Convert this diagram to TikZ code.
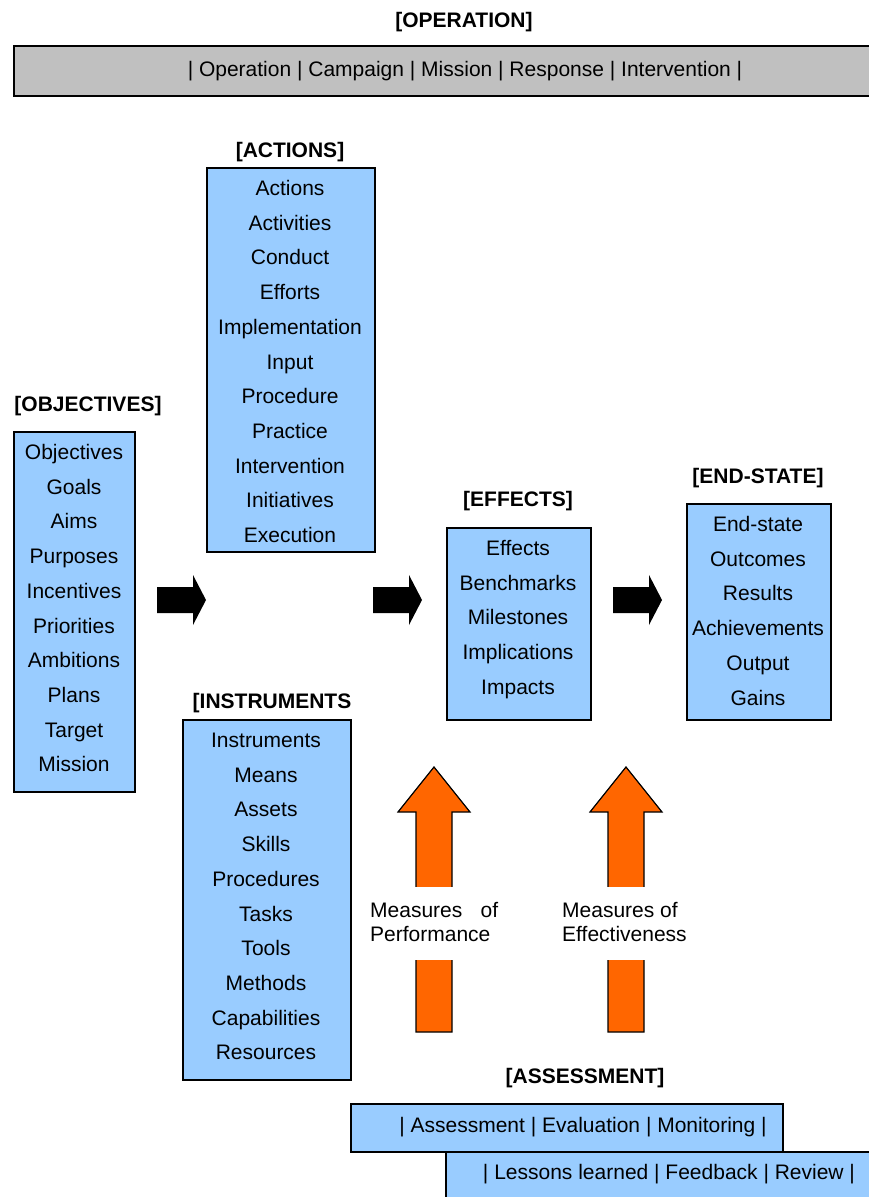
\documentclass[tikz,border=0pt]{standalone}
\usepackage{fontspec}
\setmainfont{Liberation Sans}
\definecolor{boxblue}{HTML}{99CCFF}
\definecolor{opgray}{HTML}{C0C0C0}
\definecolor{msorange}{HTML}{FF6600}
\tikzset{
  box/.style={draw=black, line width=1.5pt, fill=boxblue, inner sep=0pt, anchor=north west},
  item/.style={font=\fontsize{21}{25}\selectfont, inner sep=0pt, text height=15pt, text depth=0pt, anchor=center},
  lbl/.style={item, font=\bfseries\fontsize{21}{25}\selectfont},
  bigarrow/.style={fill=black},
  measarrow/.style={fill=msorange, draw=black, line width=1.2pt, line join=miter},
  meastext/.style={anchor=west, align=left, inner sep=0pt, font=\fontsize{21}{24}\selectfont}
}
\begin{document}
\begin{tikzpicture}[x=1pt,y=-1pt]
\useasboundingbox (0,0) rectangle (868,1197);
% operation
\node[lbl] (oplbl) at (464,20) {[OPERATION]};
\node[box, fill=opgray, minimum width=870pt, minimum height=50pt] (op) at (13,45) {};
\node[item] (optxt) at (465,69) {| Operation | Campaign | Mission | Response | Intervention |};
% boxes
\node[box, minimum width=168pt, minimum height=384pt] (act) at (206,167) {};
\node[box, minimum width=121pt, minimum height=360pt] (obj) at (13,431) {};
\node[box, minimum width=168pt, minimum height=360pt] (ins) at (182,719) {};
\node[box, minimum width=144pt, minimum height=192pt] (eff) at (446,527) {};
\node[box, minimum width=144pt, minimum height=216pt] (end) at (686,503) {};
% labels
\node[lbl] (actlbl) at (290,150) {[ACTIONS]};
\node[lbl] (objlbl) at (88,404) {[OBJECTIVES]};
\node[lbl] (inslbl) at (272,701) {[INSTRUMENTS};
\node[lbl] (efflbl) at (518,499) {[EFFECTS]};
\node[lbl] (endlbl) at (758,476) {[END-STATE]};
\node[lbl] (asslbl) at (585,1076) {[ASSESSMENT]};
% items
\foreach \t [count=\i] in {Actions,Activities,Conduct,Efforts,Implementation,Input,Procedure,Practice,Intervention,Initiatives,Execution}
  \node[item] (act-\i) at (290,{188+34.7*(\i-1)}) {\t};
\foreach \t [count=\i] in {Objectives,Goals,Aims,Purposes,Incentives,Priorities,Ambitions,Plans,Target,Mission}
  \node[item] (obj-\i) at (74,{452+34.7*(\i-1)}) {\t};
\foreach \t [count=\i] in {Instruments,Means,Assets,Skills,Procedures,Tasks,Tools,Methods,Capabilities,Resources}
  \node[item] (ins-\i) at (266,{740+34.7*(\i-1)}) {\t};
\foreach \t [count=\i] in {Effects,Benchmarks,Milestones,Implications,Impacts}
  \node[item] (eff-\i) at (518,{548+34.7*(\i-1)}) {\t};
\foreach \t [count=\i] in {End-state,Outcomes,Results,Achievements,Output,Gains}
  \node[item] (end-\i) at (758,{524+34.7*(\i-1)}) {\t};
% black arrows
\foreach \x in {157,373,613}
  \fill[bigarrow] (\x,587) -- (\x+36,587) -- (\x+36,575) -- (\x+49,600) -- (\x+36,625) -- (\x+36,613) -- (\x,613) -- cycle;
% orange arrows
\foreach \d in {0,192} {
  \filldraw[measarrow] (416+\d,1032) -- (416+\d,812) -- (398+\d,812) -- (434+\d,767) -- (470+\d,812) -- (452+\d,812) -- (452+\d,1032) -- cycle;
  \fill[white] (395+\d,887) rectangle (475+\d,960);
}
\node[meastext] (mop) at (370,922) {\hbox to 128pt{Measures\hfill of}\\Performance};
\node[meastext] (moe) at (562,922) {Measures of\\Effectiveness};
% assessment
\node[box, minimum width=440pt, minimum height=60pt] (ass2) at (445,1151) {};
\node[box, minimum width=432pt, minimum height=48pt] (ass1) at (350,1103) {};
\node[item] (ass1txt) at (583,1125) {| Assessment | Evaluation | Monitoring |};
\node[item] (ass2txt) at (669,1172) {| Lessons learned | Feedback | Review |};
\end{tikzpicture}
\end{document}
